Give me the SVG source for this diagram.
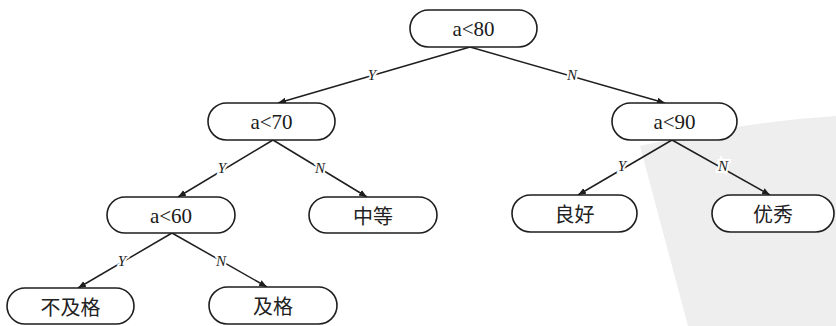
<svg xmlns="http://www.w3.org/2000/svg" width="836" height="326" viewBox="0 0 836 326">
<style>
.box{fill:#fff;stroke:#1e1e1e;stroke-width:1.6}
.t{font-family:"Liberation Serif","Times New Roman",serif;font-size:21px;fill:#1a1a1a;text-anchor:middle;dominant-baseline:central}
.c{font-family:"Noto Sans CJK SC","Noto Sans",sans-serif;font-size:20px;fill:#222;text-anchor:middle;dominant-baseline:central}
.e{stroke:#1e1e1e;stroke-width:1.5;fill:none;marker-end:url(#ah)}
.l{font-family:"Liberation Serif","Times New Roman",serif;font-style:italic;font-size:15px;fill:#1e1e1e;text-anchor:middle;dominant-baseline:central;stroke:#fff;stroke-width:4;paint-order:stroke}
</style>
<defs>
<marker id="ah" viewBox="0 0 10 10" refX="10" refY="5" markerWidth="8" markerHeight="8" markerUnits="userSpaceOnUse" orient="auto">
<path d="M0,1 L10,5 L0,9 Z" fill="#1e1e1e"/>
</marker>
</defs>
<rect width="836" height="326" fill="#fff"/>
<path d="M640,146 Q740,122 836,116 L836,326 L688,326 Z" fill="#eeeeee"/>
<g id="connectors">
<line class="e" x1="470" y1="47" x2="278" y2="103"/>
<line class="e" x1="470" y1="47" x2="665" y2="103"/>
<line class="e" x1="273" y1="140" x2="178" y2="197"/>
<line class="e" x1="273" y1="140" x2="367" y2="197"/>
<line class="e" x1="672" y1="140" x2="578" y2="195"/>
<line class="e" x1="672" y1="140" x2="770" y2="195"/>
<line class="e" x1="172" y1="233" x2="78" y2="288"/>
<line class="e" x1="172" y1="233" x2="267" y2="287"/>
<text class="l" x="372" y="75">Y</text>
<text class="l" x="572" y="75">N</text>
<text class="l" x="222" y="168">Y</text>
<text class="l" x="320" y="168">N</text>
<text class="l" x="622" y="166">Y</text>
<text class="l" x="723" y="166">N</text>
<text class="l" x="122" y="261">Y</text>
<text class="l" x="221" y="261">N</text>
</g>
<g id="n_a80"><rect class="box" x="410" y="10" width="127" height="37" rx="18.5"/><text class="t" x="473.5" y="29">a&lt;80</text></g>
<g id="n_a70"><rect class="box" x="208" y="103" width="127" height="37" rx="18.5"/><text class="t" x="271.5" y="122">a&lt;70</text></g>
<g id="n_a90"><rect class="box" x="612" y="103" width="125" height="37" rx="18.5"/><text class="t" x="674.5" y="122">a&lt;90</text></g>
<g id="n_a60"><rect class="box" x="107" y="197" width="128" height="36" rx="18"/><text class="t" x="171" y="215.5">a&lt;60</text></g>
<g id="n_zhongdeng"><rect class="box" x="309" y="197" width="128" height="36" rx="18"/><text class="c" x="373" y="215">中等</text></g>
<g id="n_lianghao"><rect class="box" x="512" y="195" width="125" height="37" rx="18.5"/><text class="c" x="574.5" y="213.5">良好</text></g>
<g id="n_youxiu"><rect class="box" x="712" y="195" width="122" height="37" rx="18.5"/><text class="c" x="773" y="213.5">优秀</text></g>
<g id="n_bujige"><rect class="box" x="7" y="288" width="127" height="36" rx="18"/><text class="c" x="70.5" y="306">不及格</text></g>
<g id="n_jige"><rect class="box" x="209" y="287" width="128" height="37" rx="18.5"/><text class="c" x="273" y="305.5">及格</text></g>
</svg>
